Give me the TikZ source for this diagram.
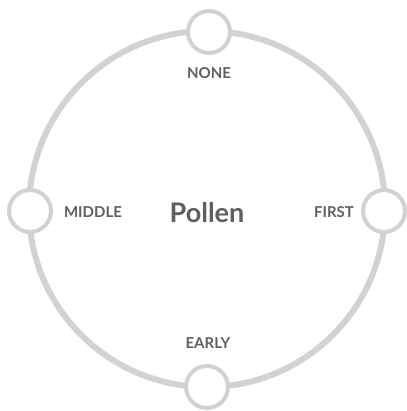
\documentclass[tikz,border=0pt]{standalone}
\usepackage{fontspec}
\setmainfont{Lato}[BoldFont={Lato Bold}]
\usepackage{tikz}
\usetikzlibrary{positioning, calc}
\definecolor{ringgray}{HTML}{D2D2D2}
\definecolor{textgray}{HTML}{5F5F5F}

\begin{document}
\begin{tikzpicture}[
  x=1pt, y=-1pt,
  every node/.style={font=\bfseries, text=textgray},
  stage/.style={circle, draw=ringgray, line width=4pt, fill=white, minimum size=42pt, inner sep=0pt},
  stagelbl/.style={font=\bfseries\fontsize{15}{17}\selectfont},
]
  \useasboundingbox (0,0) rectangle (406,411);

  \node[circle, draw=ringgray, line width=6pt, minimum size=356pt, inner sep=0pt] (ring) at (207,209) {};

  \node[stage] (none)   at (209,32)  {};
  \node[stage] (first)  at (384,211) {};
  \node[stage] (early)  at (207,387) {};
  \node[stage] (middle) at (30,211)  {};

  \node[font=\bfseries\fontsize{27}{31}\selectfont] (pollen) at (207,213) {Pollen};

  \node[stagelbl] (nonelbl)   at (209,73)  {NONE};
  \node[stagelbl] (firstlbl)  at (334,212) {FIRST};
  \node[stagelbl] (earlylbl)  at (208,343) {EARLY};
  \node[stagelbl] (middlelbl) at (93,212)  {MIDDLE};
\end{tikzpicture}
\end{document}
